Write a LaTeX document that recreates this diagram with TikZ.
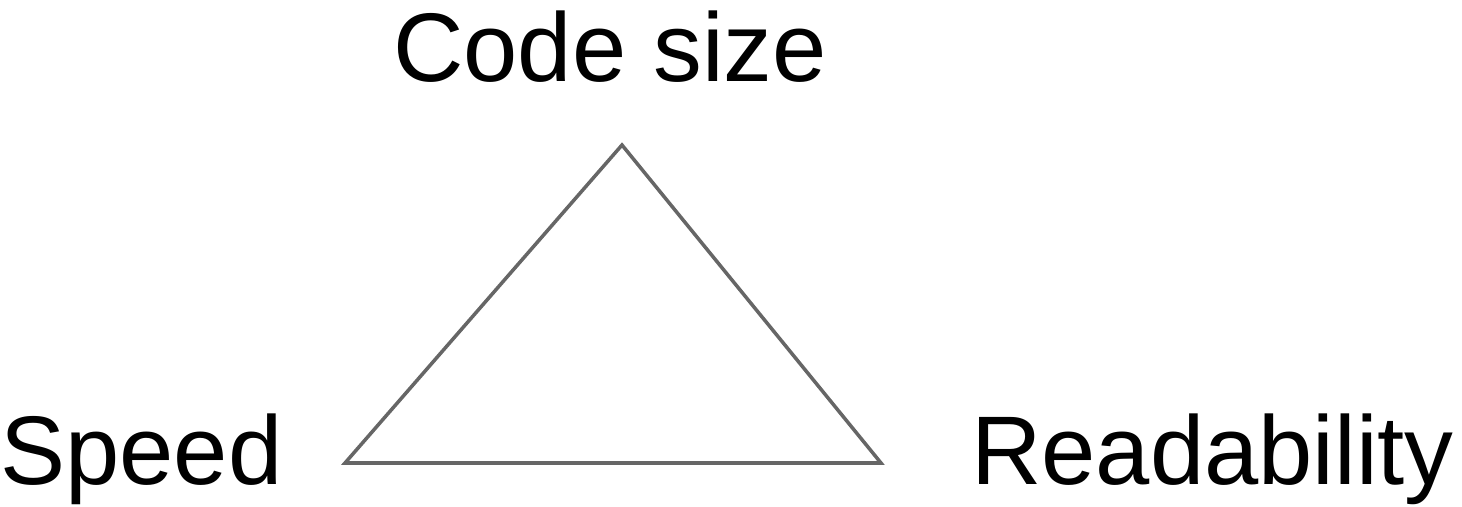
\documentclass[tikz,border=0pt]{standalone}
\usepackage{fontspec}
\setmainfont{Liberation Sans}
\usepackage{tikz}
\usetikzlibrary{positioning, calc}
\usepackage{xcolor}
\definecolor{EdgeGray}{RGB}{102,102,102}

\tikzset{
  corner/.style={font=\fontsize{55.5}{62}\selectfont, inner sep=0pt, anchor=base},
  side/.style={draw=EdgeGray, line width=2pt, line join=miter}
}

\begin{document}
\begin{tikzpicture}
    \useasboundingbox (0,0) rectangle (29.24,10.12);
    % the three corners of the trade-off
    \coordinate (top) at (12.44,7.22);
    \coordinate (lft) at (6.90,0.86);
    \coordinate (rgt) at (17.62,0.86);
    \draw[side] (top) -- (lft) -- (rgt) -- cycle;
    \node[corner] (codesize) at (12.20,8.50) {Code size};
    \node[corner, anchor=base west] (speed) at (0.0,0.44) {Speed};
    \node[corner, anchor=base east] (readab) at (29.08,0.44) {Readability};
  \end{tikzpicture}
\end{document}
